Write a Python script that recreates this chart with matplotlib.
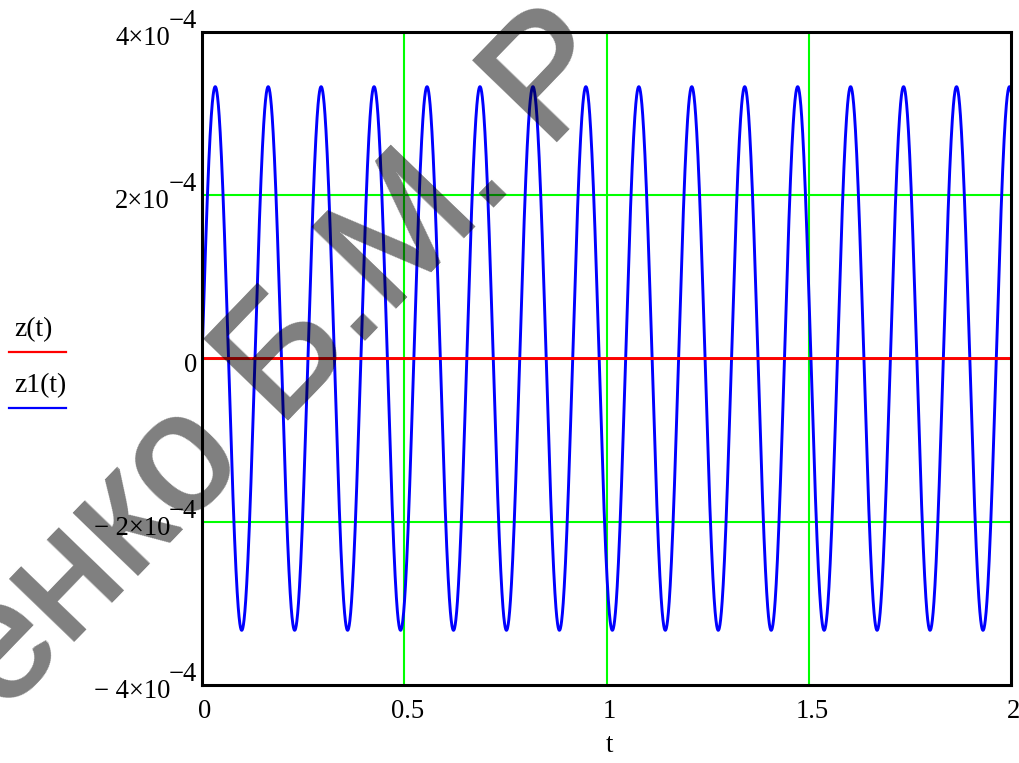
import numpy as np
import matplotlib
matplotlib.use('Agg')
import matplotlib.pyplot as plt
from matplotlib import transforms as mtrans
from matplotlib.lines import Line2D

# ---- values ----
t_start, t_end = 0.0, 2.0
z1_amplitude = 3.33e-4      # peak height of z1(t)
z1_omega = 48.0             # rad/s : 15 peaks over 2 s, first peak at t ~ 0.033
z_level = 0.0               # z(t) is identically zero
x_ticks = [0, 0.5, 1, 1.5, 2]
x_tick_labels = ['0', '0.5', '1', '1.5', '2']
y_ticks = [4e-4, 2e-4, 0, -2e-4, -4e-4]
y_tick_mant = ['4×10', '2×10', '0', '− 2×10', '− 4×10']
y_tick_exp = ['−4', '−4', '', '−4', '−4']
x_grid = [0.5, 1.0, 1.5]
y_grid = [2e-4, 0.0, -2e-4]
legend_labels = ['z(t)', 'z1(t)']
axis_label = 't'
watermark = 'енко Б.М. Р'

t = np.linspace(t_start, t_end, 4001)
z = np.full_like(t, z_level)
z1 = z1_amplitude * np.sin(z1_omega * t)

# ---- figure ----
W, H = 1019, 763
fig = plt.figure(figsize=(W / 100, H / 100), dpi=100)
L, R, T, B = 202, 1011, 32, 685
ax = fig.add_axes([L / W, 1 - B / H, (R - L) / W, (B - T) / H])
ax.set_xlim(t_start, t_end)
ax.set_ylim(-4e-4, 4e-4)

green = '#00ff00'
for v in x_grid:
    ax.axvline(v, color=green, lw=1.5, zorder=1)
for v in y_grid:
    ax.axhline(v, color=green, lw=1.5, zorder=1)

ax.plot(t, z1, color='#0000ff', lw=2.1, zorder=2)
ax.plot(t, z, color='#ff0000', lw=2.1, zorder=3)

ax.set_xticks([])
ax.set_yticks([])
for s in ax.spines.values():
    s.set_linewidth(2.2)
    s.set_color('black')
    s.set_zorder(4)

serif = 'Liberation Serif'
fs = 19.2


def off(tr, dx, dy):
    return mtrans.offset_copy(tr, fig=fig, x=dx, y=dy, units='dots')


xb = mtrans.blended_transform_factory(ax.transData, ax.transAxes)
for v, lab in zip(x_ticks, x_tick_labels):
    ax.text(v, 0, lab, transform=off(xb, 3, -33), ha='center', va='baseline',
            fontsize=fs, family=serif, clip_on=False)

ax.text(1.0, 0, axis_label, transform=off(xb, 3, -67), ha='center', va='baseline',
        fontsize=fs, family=serif, clip_on=False)

yb = mtrans.blended_transform_factory(ax.transAxes, ax.transData)
for v, m, e in zip(y_ticks, y_tick_mant, y_tick_exp):
    if e:
        ax.text(0, v, m, transform=off(yb, -32, -13), ha='right', va='baseline',
                fontsize=fs, family=serif, clip_on=False)
        ax.text(0, v, e, transform=off(yb, -5, 4), ha='right', va='baseline',
                fontsize=fs, family=serif, clip_on=False)
    else:
        ax.text(0, v, m, transform=off(yb, -5, -13), ha='right', va='baseline',
                fontsize=fs, family=serif, clip_on=False)

# ---- legend (left of the axes) ----
leg_colors = ['#ff0000', '#0000ff']
leg_text_y = [336, 392]
leg_line_y = [352, 408]
for lab, c, ty, ly in zip(legend_labels, leg_colors, leg_text_y, leg_line_y):
    fig.text(14 / W, 1 - ty / H, lab, ha='left', va='baseline', fontsize=20, family=serif)
    fig.add_artist(Line2D([9 / W, 66 / W], [1 - ly / H, 1 - ly / H], color=c, lw=1.6,
                          transform=fig.transFigure))


# ---- watermark (semi-transparent, slightly thickened glyphs) ----
def thicken(img, dpi, r=2, alpha=0.5):
    a = img[..., 3]
    out_a = a.copy()
    h, w = a.shape
    for dy in range(-r, r + 1):
        for dx in range(-r, r + 1):
            if dx * dx + dy * dy > r * r:
                continue
            sh = np.zeros_like(a)
            ys0, ys1 = max(0, dy), min(h, h + dy)
            xs0, xs1 = max(0, dx), min(w, w + dx)
            sh[ys0:ys1, xs0:xs1] = a[ys0 - dy:ys1 - dy, xs0 - dx:xs1 - dx]
            np.maximum(out_a, sh, out=out_a)
    out = np.zeros_like(img)
    out[..., 3] = out_a * alpha
    return out, 0, 0


wm = fig.text(283 / W, 1 - 362 / H, watermark, rotation=46, rotation_mode='anchor',
              ha='center', va='center', fontsize=120, family='Liberation Sans',
              color='black', zorder=10)
wm.set_agg_filter(thicken)

fig.savefig('out.png', dpi=100)
